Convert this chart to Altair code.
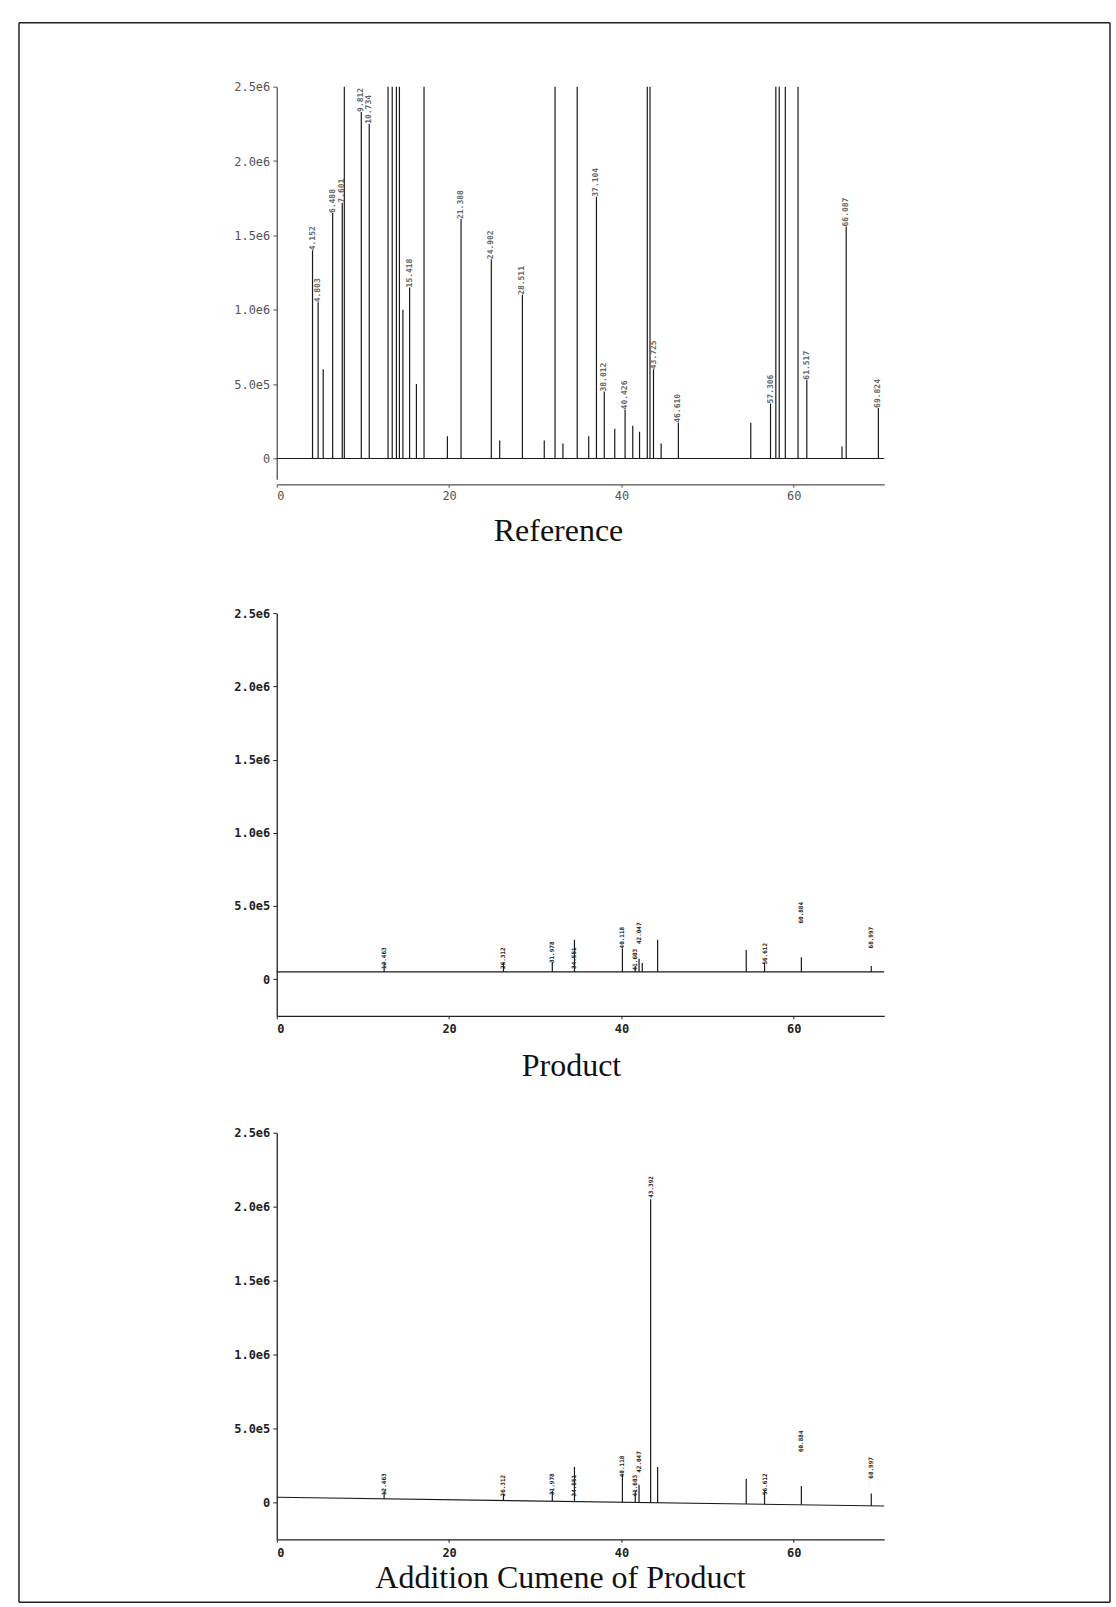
import altair as alt
import pandas as pd

# Retention time axis (minutes) and detector response (counts)
X_MAX = 70.5
Y_TOP = 2.5e6
Y_TICKS = [0, 5e5, 1e6, 1.5e6, 2e6, 2.5e6]
X_TICKS = [0, 20, 40, 60]

# ---- Reference standard mixture ----
ref_rt = [4.152, 4.803, 5.392, 6.488, 7.601, 7.842, 9.812, 10.734, 12.915, 13.402,
          13.887, 14.236, 14.641, 15.418, 16.207, 17.093, 19.804, 21.388, 24.902, 25.873,
          28.511, 31.046, 32.298, 33.214, 34.871, 36.205, 37.104, 38.012, 39.226, 40.426,
          41.318, 42.106, 43.004, 43.318, 43.725, 44.612, 46.610, 55.012, 57.306, 57.921,
          58.317, 59.024, 60.498, 61.517, 65.602, 66.087, 69.824]
ref_height = [1.40e6, 1.05e6, 0.60e6, 1.65e6, 1.72e6, 2.6e6, 2.33e6, 2.25e6, 2.6e6, 2.6e6,
              2.6e6, 2.6e6, 1.00e6, 1.15e6, 0.50e6, 2.6e6, 0.15e6, 1.61e6, 1.34e6, 0.12e6,
              1.10e6, 0.12e6, 2.6e6, 0.10e6, 2.6e6, 0.15e6, 1.76e6, 0.45e6, 0.20e6, 0.33e6,
              0.22e6, 0.18e6, 2.6e6, 2.6e6, 0.60e6, 0.10e6, 0.24e6, 0.24e6, 0.37e6, 2.6e6,
              2.6e6, 2.6e6, 2.6e6, 0.53e6, 0.08e6, 1.56e6, 0.34e6]
ref_baseline = [0.0, 0.0]
ref_label_rt = [4.152, 4.803, 6.488, 7.601, 9.812, 10.734, 15.418, 21.388, 24.902, 28.511,
                37.104, 38.012, 40.426, 43.725, 46.610, 57.306, 61.517, 66.087, 69.824]
ref_label_y = [1.40e6, 1.05e6, 1.65e6, 1.72e6, 2.33e6, 2.25e6, 1.15e6, 1.61e6, 1.34e6, 1.10e6,
               1.76e6, 0.45e6, 0.33e6, 0.60e6, 0.24e6, 0.37e6, 0.53e6, 1.56e6, 0.34e6]

# ---- Product ----
prod_rt = [12.463, 26.312, 31.978, 34.551, 40.118, 41.603, 42.047, 42.418, 44.203, 54.487,
           56.612, 60.884, 68.997]
prod_height = [0.12e6, 0.11e6, 0.12e6, 0.27e6, 0.21e6, 0.09e6, 0.14e6, 0.11e6, 0.27e6, 0.20e6,
               0.11e6, 0.15e6, 0.09e6]
prod_baseline = [0.05e6, 0.05e6]
prod_label_rt = [12.463, 26.312, 31.978, 34.551, 40.118, 41.603, 42.047, 56.612, 60.884, 68.997]
prod_label_y = [0.07e6, 0.07e6, 0.11e6, 0.07e6, 0.21e6, 0.06e6, 0.24e6, 0.10e6, 0.38e6, 0.21e6]

# ---- Product with added cumene ----
add_rt = [12.463, 26.312, 31.978, 34.551, 40.118, 41.603, 42.047, 43.392, 44.203, 54.487,
          56.612, 60.884, 68.997]
add_height = [0.08e6, 0.06e6, 0.08e6, 0.24e6, 0.19e6, 0.08e6, 0.12e6, 2.05e6, 0.24e6, 0.16e6,
              0.08e6, 0.11e6, 0.06e6]
add_baseline = [0.035e6, -0.025e6]
add_label_rt = [12.463, 26.312, 31.978, 34.551, 40.118, 41.603, 42.047, 43.392, 56.612, 60.884, 68.997]
add_label_y = [0.05e6, 0.04e6, 0.05e6, 0.04e6, 0.17e6, 0.04e6, 0.20e6, 2.06e6, 0.05e6, 0.34e6, 0.16e6]

LABEL_EXPR = ("datum.value == 0 ? '0' : (datum.value < 1000000 ? "
              "format(datum.value / 100000, '.1f') + 'e5' : "
              "format(datum.value / 1000000, '.1f') + 'e6')")

WIDTH = 608


def base_at(rt, baseline):
    b0, b1 = baseline
    return b0 + (b1 - b0) * rt / X_MAX


def panel(rts, heights, baseline, label_rts, label_ys, ymin, height, title,
          ink, tick_weight, label_ink, label_size, x_offset, x_pad, title_offset, title_dx):
    peaks = pd.DataFrame({
        "rt": rts,
        "top": heights,
        "bottom": [base_at(r, baseline) for r in rts],
    })
    trace = pd.DataFrame({"rt": [0, X_MAX], "signal": baseline})
    labels = pd.DataFrame({
        "rt": label_rts,
        "y": label_ys,
        "text": [f"{r:.3f}" for r in label_rts],
    })

    x_scale = alt.Scale(domain=[0, X_MAX], nice=False, zero=False)
    y_scale = alt.Scale(domain=[ymin, Y_TOP], nice=False, zero=False)
    x_axis = alt.Axis(values=X_TICKS, title=None, grid=False, tickSize=3,
                      labelFont="DejaVu Sans Mono", labelFontSize=12, labelColor=ink,
                      labelFontWeight=tick_weight,
                      tickColor=ink, domainColor=ink, domainWidth=1.3,
                      labelPadding=x_pad, offset=x_offset)
    y_axis = alt.Axis(values=Y_TICKS, labelExpr=LABEL_EXPR, title=None, grid=False,
                      tickSize=4, labelFont="DejaVu Sans Mono", labelFontSize=12,
                      labelFontWeight=tick_weight,
                      labelColor=ink, tickColor=ink, domainColor=ink, domainWidth=1.3,
                      labelPadding=3)

    line = alt.Chart(trace).mark_line(color="#1a1a1a", strokeWidth=1.1).encode(
        x=alt.X("rt:Q", scale=x_scale, axis=x_axis),
        y=alt.Y("signal:Q", scale=y_scale, axis=y_axis),
    )
    spikes = alt.Chart(peaks).mark_rule(clip=True, color="#1a1a1a", strokeWidth=1.2).encode(
        x=alt.X("rt:Q", scale=x_scale),
        y=alt.Y("bottom:Q", scale=y_scale),
        y2="top:Q",
    )
    tags = alt.Chart(labels).mark_text(
        angle=270, align="left", baseline="middle", font="DejaVu Sans Mono",
        fontSize=label_size, fontWeight="bold", color=label_ink,
    ).encode(
        x=alt.X("rt:Q", scale=x_scale),
        y=alt.Y("y:Q", scale=y_scale),
        text="text:N",
    )
    return alt.layer(line, spikes, tags).properties(
        width=WIDTH,
        height=height,
        title=alt.TitleParams(text=title, orient="bottom", anchor="middle",
                              font="Liberation Serif", fontSize=32,
                              fontWeight="normal", color="#111",
                              offset=title_offset, dx=title_dx),
    )


# outer frame around the whole figure (a plain ruled box, no scales)
frame_src = pd.DataFrame({"k": [0]})
frame_style = dict(color="#222", strokeWidth=1.5)
FL, FR, FB = -258, 834, 1581
frame = alt.layer(
    alt.Chart(frame_src).mark_rule(**frame_style).encode(
        x=alt.value(FL), x2=alt.value(FR), y=alt.value(0)),
    alt.Chart(frame_src).mark_rule(**frame_style).encode(
        x=alt.value(FL), x2=alt.value(FR), y=alt.value(FB)),
    alt.Chart(frame_src).mark_rule(**frame_style).encode(
        x=alt.value(FL), y=alt.value(0), y2=alt.value(FB)),
    alt.Chart(frame_src).mark_rule(**frame_style).encode(
        x=alt.value(FR), y=alt.value(0), y2=alt.value(FB)),
).properties(width=WIDTH, height=1)

p1 = panel(ref_rt, ref_height, ref_baseline, ref_label_rt, ref_label_y,
           ymin=-0.14e6, height=393, title="Reference", ink="#555", tick_weight="normal",
           label_ink="#666", label_size=8, x_offset=5, x_pad=3, title_offset=15, title_dx=-22)

p2 = panel(prod_rt, prod_height, prod_baseline, prod_label_rt, prod_label_y,
           ymin=-0.25e6, height=403, title="Product", ink="#222", tick_weight="bold",
           label_ink="#222", label_size=6, x_offset=0, x_pad=5, title_offset=16, title_dx=-9)

p3 = panel(add_rt, add_height, add_baseline, add_label_rt, add_label_y,
           ymin=-0.25e6, height=407, title="Addition Cumene of Product", ink="#222",
           tick_weight="bold", label_ink="#222", label_size=6, x_offset=0, x_pad=5,
           title_offset=5, title_dx=-20)

lower = alt.vconcat(p2, p3, spacing=117, bounds="flush")
panels = alt.vconcat(p1, lower, spacing=134, bounds="flush")
chart = alt.vconcat(frame, panels, spacing=63, bounds="flush").properties(
    padding={"left": 18, "top": 21, "right": 5, "bottom": 4},
    background="white",
).configure_view(stroke=None)

chart.save("out.html", embed_options={"renderer": "svg", "actions": False})
